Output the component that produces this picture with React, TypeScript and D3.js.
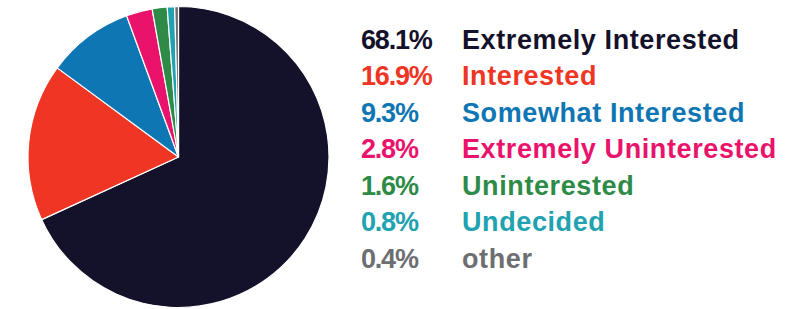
import React, { useRef, useEffect } from "react";
import * as d3 from "d3";

const categories = [
  "Extremely Interested",
  "Interested",
  "Somewhat Interested",
  "Extremely Uninterested",
  "Uninterested",
  "Undecided",
  "other",
];
const shares = [68.1, 16.9, 9.3, 2.8, 1.6, 0.8, 0.4];
const percentLabels = ["68.1%", "16.9%", "9.3%", "2.8%", "1.6%", "0.8%", "0.4%"];
const colors = ["#14112a", "#ef3524", "#0e76b3", "#ea136c", "#2e8b47", "#21a2b0", "#6d6e71"];

const App = () => {
  const plot = useRef<SVGSVGElement>(null);

  const width = 785;
  const height = 309;
  const cx = 178.5;
  const cy = 157;
  const radius = 150.5;

  useEffect(() => {
    const svg = d3.select(plot.current);
    svg.selectAll("*").remove();

    const pie = d3.pie<number>().sort(null).value(d => d);
    const arc = d3.arc<d3.PieArcDatum<number>>().innerRadius(0).outerRadius(radius);

    svg.append("g")
      .attr("transform", `translate(${cx}, ${cy})`)
      .selectAll("path")
      .data(pie(shares))
      .join("path")
      .attr("d", arc)
      .attr("fill", (d, i) => colors[i])
      .attr("stroke", "#ffffff")
      .attr("stroke-width", 1.2)
      .attr("stroke-linejoin", "round");

    // legend rows
    const yScale = d3.scaleLinear().domain([0, categories.length - 1]).range([49, 267.5]);

    const rows = svg.append("g")
      .attr("font-family", "'Liberation Sans', Arial, sans-serif")
      .attr("font-weight", "bold")
      .attr("font-size", 27)
      .selectAll("g")
      .data(categories)
      .join("g")
      .attr("transform", (d, i) => `translate(0, ${yScale(i)})`)
      .attr("fill", (d, i) => colors[i]);

    rows.append("text")
      .attr("x", 361)
      .attr("letter-spacing", -1.2)
      .text((d, i) => percentLabels[i]);

    rows.append("text")
      .attr("x", 462)
      .attr("letter-spacing", 0.6)
      .text(d => d);
  }, []);

  return (
    <svg
      ref={plot}
      width={width}
      height={height}
      style={{ position: "fixed", left: 0, top: 0, background: "#ffffff" }}
    />
  );
};

export default App;
